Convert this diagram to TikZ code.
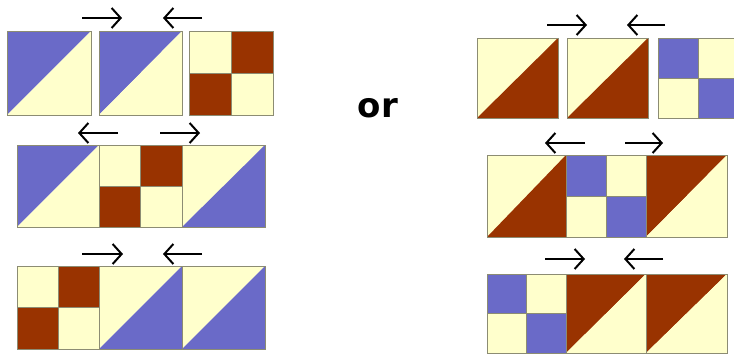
\documentclass[tikz,border=0pt]{standalone}
\usepackage{fontspec}
\newfontfamily\orfont{DejaVu Sans}
\usetikzlibrary{arrows.meta}
\definecolor{qblue}{RGB}{106,106,200}
\definecolor{qyel}{RGB}{255,255,204}
\definecolor{qbrown}{RGB}{153,51,0}
\definecolor{qedge}{RGB}{140,140,115}
\tikzset{
  blkborder/.style={draw=qedge,line width=1pt},
  arr/.style={line width=2pt,-{Straight Barb[length=9pt,width=20pt,line width=2pt]}},
}
% half-square triangle: x1,y1 (top-left), x2,y2 (bottom-right), upper-left colour, lower-right colour
\newcommand{\hstblk}[6]{%
  \fill[#5] (#1,#2) -- (#3,#2) -- (#1,#4) -- cycle;
  \fill[#6] (#3,#2) -- (#3,#4) -- (#1,#4) -- cycle;
  \draw[blkborder] (#1,#2) rectangle (#3,#4);}
% four-patch: x1,y1, x2,y2, colour of TL/BR, colour of TR/BL
\newcommand{\fourblk}[6]{%
  \fill[#5] (#1,#2) rectangle ({(#1+#3)/2},{(#2+#4)/2});
  \fill[#5] ({(#1+#3)/2},{(#2+#4)/2}) rectangle (#3,#4);
  \fill[#6] ({(#1+#3)/2},#2) rectangle (#3,{(#2+#4)/2});
  \fill[#6] (#1,{(#2+#4)/2}) rectangle ({(#1+#3)/2},#4);
  \draw[blkborder] (#1,#2) rectangle (#3,#4);
  \draw[blkborder] ({(#1+#3)/2},#2) -- ({(#1+#3)/2},#4);
  \draw[blkborder] (#1,{(#2+#4)/2}) -- (#3,{(#2+#4)/2});}
\begin{document}
\begin{tikzpicture}[x=1pt,y=-1pt]
\useasboundingbox (0,0) rectangle (734,354);
\fill[white] (0,0) rectangle (734,354);
\begin{scope}
\clip (0,0) rectangle (734,354);
% ---- left: top row
\hstblk{7}{31}{91}{115}{qblue}{qyel}
\hstblk{99}{31}{182}{115}{qblue}{qyel}
\fourblk{189}{31}{273}{115}{qyel}{qbrown}
% ---- left: middle row
\hstblk{17}{145}{99}{227}{qblue}{qyel}
\fourblk{99}{145}{182}{227}{qyel}{qbrown}
\hstblk{182}{145}{265}{227}{qyel}{qblue}
% ---- left: bottom row
\fourblk{17}{266}{99}{349}{qyel}{qbrown}
\hstblk{99}{266}{182}{349}{qyel}{qblue}
\hstblk{182}{266}{265}{349}{qyel}{qblue}
% ---- right: top row
\hstblk{477}{38}{558}{118}{qyel}{qbrown}
\hstblk{567}{38}{648}{118}{qyel}{qbrown}
\fourblk{658}{38}{738}{118}{qblue}{qyel}
% ---- right: middle row
\hstblk{487}{155}{566}{237}{qyel}{qbrown}
\fourblk{566}{155}{646}{237}{qblue}{qyel}
\hstblk{646}{155}{727}{237}{qbrown}{qyel}
% ---- right: bottom row
\fourblk{487}{274}{566}{353}{qblue}{qyel}
\hstblk{566}{274}{646}{353}{qbrown}{qyel}
\hstblk{646}{274}{727}{353}{qbrown}{qyel}
\end{scope}
% ---- arrows (named free ends)
\coordinate (l1as) at (82,18);  \coordinate (l1ae) at (122,18);
\coordinate (l1bs) at (202,18); \coordinate (l1be) at (163,18);
\coordinate (l2as) at (118,133); \coordinate (l2ae) at (78,133);
\coordinate (l2bs) at (160,133); \coordinate (l2be) at (200,133);
\coordinate (l3as) at (82,254);  \coordinate (l3ae) at (123,254);
\coordinate (l3bs) at (202,254); \coordinate (l3be) at (163,254);
\coordinate (r1as) at (547,25);  \coordinate (r1ae) at (587,25);
\coordinate (r1bs) at (665,25);  \coordinate (r1be) at (627,25);
\coordinate (r2as) at (585,143); \coordinate (r2ae) at (545,143);
\coordinate (r2bs) at (625,143); \coordinate (r2be) at (663,143);
\coordinate (r3as) at (545,259); \coordinate (r3ae) at (585,259);
\coordinate (r3bs) at (663,259); \coordinate (r3be) at (624,259);
\foreach \n in {l1a,l1b,l2a,l2b,l3a,l3b,r1a,r1b,r2a,r2b,r3a,r3b}
  \draw[arr] (\n s) -- (\n e);
% ---- "or"
\node[font=\orfont\bfseries\fontsize{34}{36}\selectfont,anchor=base,inner sep=0pt] (or) at (378,117) {or};
\end{tikzpicture}
\end{document}
